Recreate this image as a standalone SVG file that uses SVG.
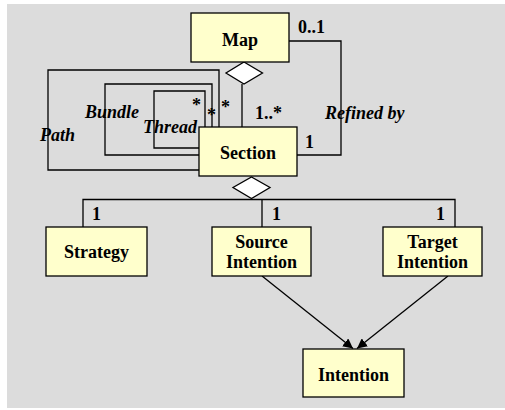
<svg xmlns="http://www.w3.org/2000/svg" width="505" height="410" viewBox="0 0 505 410">
<style>
.box{fill:#ffffcc;stroke:#000;stroke-width:1.3}
text{font-family:'Liberation Serif','Times New Roman',serif;font-weight:bold;font-size:18px;fill:#000}
.c{text-anchor:middle}
.i{font-style:italic}
.ln{fill:none;stroke:#000;stroke-width:1.3}
.dia{fill:#fff;stroke:#000;stroke-width:1.3}
</style>
<defs>
<marker id="ah" viewBox="0 0 10 10" refX="10" refY="5" markerWidth="10" markerHeight="10" markerUnits="userSpaceOnUse" orient="auto">
<path d="M0,0 L10,5 L0,10 z" fill="#000"/>
</marker>
</defs>
<rect x="7" y="4" width="498" height="404" fill="#dcdcdc"/>
<g id="connectors">
<polyline class="ln" points="289,41 341,41 341,155 297,155"/>
<line class="ln" x1="242" y1="84" x2="242" y2="127"/>
<path class="dia" d="M244,62 L262.5,73 L244,84 L226,73 z"/>
<polyline class="ln" points="199,170 48,170 48,70 219,70 219,127"/>
<polyline class="ln" points="199,155 105,155 105,84 212,84 212,127"/>
<polyline class="ln" points="199,148 154,148 154,91 205,91 205,127"/>
<polyline class="ln" points="83,227 83,199.5 455,199.5 455,227"/>
<line class="ln" x1="262" y1="199.5" x2="262" y2="227"/>
<path class="dia" d="M251.5,177 L270,187.5 L251.5,198.5 L233,187.5 z"/>
<line class="ln" x1="262" y1="276" x2="353" y2="348.5" marker-end="url(#ah)"/>
<line class="ln" x1="448" y1="276" x2="357" y2="348.5" marker-end="url(#ah)"/>
<text x="298" y="33">0..1</text>
<text class="i" x="325" y="119">Refined by</text>
<text x="255" y="119">1..*</text>
<text x="305" y="148">1</text>
<text x="192" y="111">*</text>
<text x="207" y="121">*</text>
<text x="221" y="113">*</text>
<text class="i" x="85" y="118">Bundle</text>
<text class="i" x="143" y="133">Thread</text>
<text class="i" x="40" y="141">Path</text>
<text x="92" y="220">1</text>
<text x="272" y="220">1</text>
<text x="436" y="220">1</text>
</g>
<g id="map">
<rect class="box" x="191" y="13" width="98" height="49"/>
<text class="c" x="240" y="45.5">Map</text>
</g>
<g id="section">
<rect class="box" x="199" y="127" width="98" height="49"/>
<text class="c" x="248" y="159">Section</text>
</g>
<g id="strategy">
<rect class="box" x="46" y="227" width="101" height="49"/>
<text class="c" x="96.5" y="258">Strategy</text>
</g>
<g id="source">
<rect class="box" x="212" y="227" width="99" height="49"/>
<text class="c" x="261.5" y="248">Source</text>
<text class="c" x="261.5" y="268">Intention</text>
</g>
<g id="target">
<rect class="box" x="383" y="227" width="99" height="49"/>
<text class="c" x="432.5" y="248">Target</text>
<text class="c" x="432.5" y="268">Intention</text>
</g>
<g id="intention">
<rect class="box" x="303" y="349" width="101" height="48"/>
<text class="c" x="353.5" y="381">Intention</text>
</g>
</svg>
